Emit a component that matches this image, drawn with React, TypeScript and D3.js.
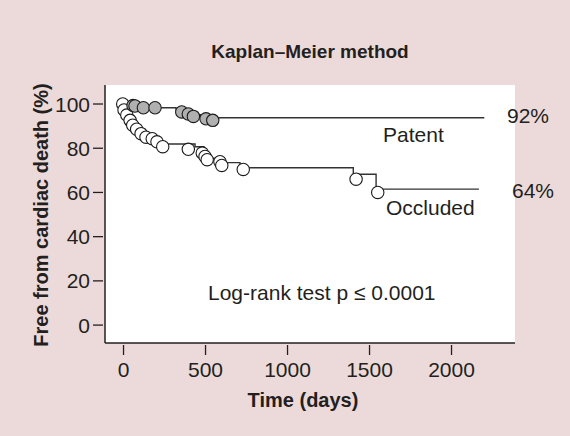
import * as d3 from "d3";

// Kaplan–Meier steps: [day, % free from cardiac death]
const patentSteps: [number, number][] = [
  [0, 100], [45, 99.2], [95, 98.3], [320, 96.6], [415, 95.2], [470, 94.4], [495, 93.8], [2200, 93.8],
];
const occludedSteps: [number, number][] = [
  [0, 100], [8, 97.5], [22, 95], [40, 92.8], [58, 90.6], [80, 88.8], [105, 86.8], [140, 85.2],
  [190, 83.8], [230, 81.9], [436, 80.7], [490, 78], [515, 75.5], [600, 73.5], [710, 71.2],
  [1401, 68.2], [1540, 61.5], [2167, 61.5],
];

// censored observations (circles)
const patentCensored: [number, number][] = [
  [58, 99.3], [70, 99.1], [121, 98.3], [192, 98.3], [355, 96.4], [395, 95.5], [426, 94.4],
  [503, 93.3], [544, 92.6],
];
const occludedCensored: [number, number][] = [
  [-5, 100], [3, 97.3], [20, 95], [40, 92.6], [56, 90.4], [80, 88.6], [107, 86.6], [137, 85],
  [175, 84.3], [204, 82.9], [239, 80.7], [395, 79.5], [480, 77.8], [497, 76.3], [510, 74.8],
  [588, 73.9], [599, 72.2], [730, 70.4], [1418, 66], [1550, 60],
];

const xTicks = [0, 500, 1000, 1500, 2000];
const yTicks = [0, 20, 40, 60, 80, 100];

const W = 570;
const H = 436;
const plot = { left: 105, right: 515, top: 85, bottom: 343 };
const font = "'Liberation Sans', Arial, Helvetica, sans-serif";
const ink = "#231f20";

function App() {
  const x = d3.scaleLinear().domain([-113, 2387]).range([plot.left, plot.right]);
  const y = d3.scaleLinear().domain([-8.1, 108.6]).range([plot.bottom, plot.top]);

  const line = d3
    .line<[number, number]>()
    .x((d) => x(d[0]))
    .y((d) => y(d[1]))
    .curve(d3.curveStepAfter);

  return (
    <div style={{ position: "absolute", left: 0, top: 0 }}>
      <svg width={W} height={H} viewBox={`0 0 ${W} ${H}`} style={{ display: "block" }}>
        <rect x={0} y={0} width={W} height={H} fill="#ecdada" />
        <rect
          x={plot.left}
          y={plot.top}
          width={plot.right - plot.left}
          height={plot.bottom - plot.top}
          fill="#fff"
        />

        <text x={310} y={58} textAnchor="middle" fontFamily={font} fontWeight="bold" fontSize={19} fill={ink}>
          Kaplan–Meier method
        </text>

        {/* curves */}
        <path d={line(patentSteps) ?? ""} fill="none" stroke="#333" strokeWidth={1.4} />
        <path d={line(occludedSteps) ?? ""} fill="none" stroke="#333" strokeWidth={1.4} />

        {occludedCensored.map((d, i) => (
          <circle key={"o" + i} cx={x(d[0])} cy={y(d[1])} r={6.2} fill="#fff" stroke="#1a1a1a" strokeWidth={1.1} />
        ))}
        {patentCensored.map((d, i) => (
          <circle key={"p" + i} cx={x(d[0])} cy={y(d[1])} r={6.2} fill="#b0b0b0" stroke="#1a1a1a" strokeWidth={1.1} />
        ))}

        {/* axes */}
        <line x1={plot.left} x2={plot.left} y1={plot.top} y2={plot.bottom} stroke={ink} strokeWidth={1.5} />
        <line x1={plot.left} x2={plot.right} y1={plot.bottom} y2={plot.bottom} stroke={ink} strokeWidth={1.5} />

        {yTicks.map((t) => (
          <g key={"y" + t}>
            <line x1={93} x2={103} y1={y(t)} y2={y(t)} stroke={ink} strokeWidth={1.3} />
            <text x={90} y={y(t)} dy="0.36em" textAnchor="end" fontFamily={font} fontSize={21} fill={ink}>
              {t}
            </text>
          </g>
        ))}
        {xTicks.map((t) => (
          <g key={"x" + t}>
            <line x1={x(t)} x2={x(t)} y1={345} y2={355} stroke={ink} strokeWidth={1.3} />
            <text x={x(t)} y={377} textAnchor="middle" fontFamily={font} fontSize={21} fill={ink}>
              {t}
            </text>
          </g>
        ))}

        <text
          transform="translate(48,215) rotate(-90)"
          textAnchor="middle"
          fontFamily={font}
          fontWeight="bold"
          fontSize={20}
          fill={ink}
        >
          Free from cardiac death (%)
        </text>
        <text x={303} y={407} textAnchor="middle" fontFamily={font} fontWeight="bold" fontSize={20} fill={ink}>
          Time (days)
        </text>

        {/* annotations */}
        <text x={507} y={123} fontFamily={font} fontSize={21} fill={ink}>92%</text>
        <text x={383} y={142} fontFamily={font} fontSize={21} fill={ink}>Patent</text>
        <text x={512} y={198} fontFamily={font} fontSize={21} fill={ink}>64%</text>
        <text x={386} y={215} fontFamily={font} fontSize={21} fill={ink}>Occluded</text>
        <text x={208} y={300} fontFamily={font} fontSize={21} fill={ink}>Log-rank test p ≤ 0.0001</text>
      </svg>
    </div>
  );
}

export default App;
